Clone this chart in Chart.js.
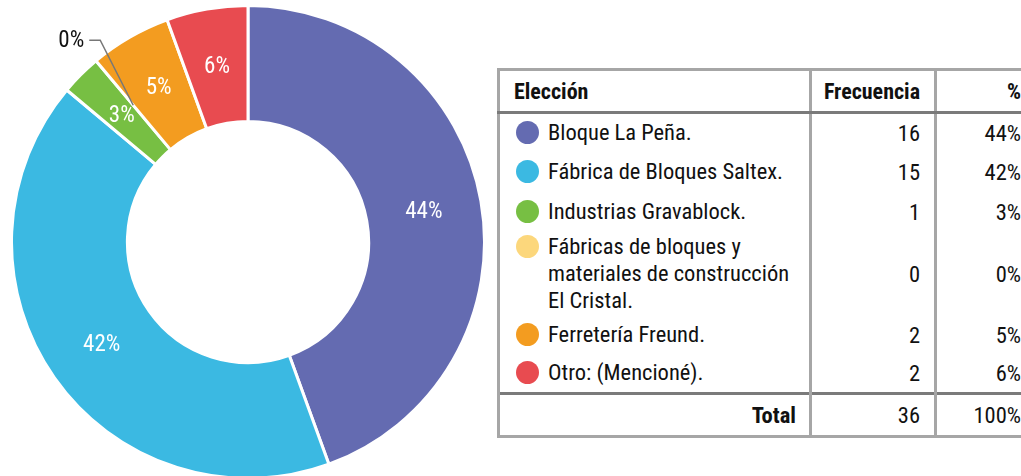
<!DOCTYPE html>
<html lang="es">
<head>
<meta charset="utf-8">
<title>Elección de proveedor</title>
<script src="https://cdn.jsdelivr.net/npm/chart.js@4/dist/chart.umd.min.js"></script>
<style>
  html, body {
    margin: 0;
    padding: 0;
    width: 1021px;
    height: 476px;
    overflow: hidden;
    background: #fff;
    font-family: Roboto, "DejaVu Sans", sans-serif;
    font-stretch: condensed;
    color: #111;
  }
  #chartBox {
    position: absolute;
    left: 10px;
    top: 4px;
    width: 476px;
    height: 476px;
  }
  #tabla {
    position: absolute;
    left: 497px;
    top: 68px;
    border-collapse: collapse;
    table-layout: fixed;
    width: 538px;
    font-size: 22.5px;
  }
  #tabla td, #tabla th {
    padding: 0;
    vertical-align: middle;
  }
  #tabla th {
    font-size: 22px;
    font-weight: bold;
    height: 40px;
    border: 3px solid #a6a6a6;
    border-bottom-color: #7a7a7a;
  }
  #tabla th.nombre { text-align: left; padding-left: 14px; }
  #tabla th.num, #tabla td.num { text-align: right; padding-right: 14px; }
  #tabla td { border-left: 3px solid #a6a6a6; border-right: 3px solid #a6a6a6; }
  #tabla td.nombre { padding-left: 16px; }
  #tabla tr.total td {
    border-top: 3px solid #7a7a7a;
    border-bottom: 3px solid #a6a6a6;
    height: 40px;
  }
  #tabla tr.total td.nombre { text-align: right; font-weight: bold; padding-right: 13px; }
  .item { display: flex; align-items: flex-start; line-height: 27px; white-space: pre-line; }
  .dot {
    flex: none;
    width: 23px;
    height: 23px;
    border-radius: 50%;
    margin-top: 2px;
    margin-right: 9px;
  }
</style>
</head>
<body>
<div id="chartBox"><canvas id="donaChart" width="476" height="476"></canvas></div>
<table id="tabla">
  <colgroup><col style="width:312px"><col style="width:125px"><col style="width:101px"></colgroup>
  <thead>
    <tr><th class="nombre">Elección</th><th class="num">Frecuencia</th><th class="num">%</th></tr>
  </thead>
  <tbody id="tablaBody"></tbody>
</table>
<script>
// Categorías y valores de la encuesta
const categorias = [
  "Bloque La Peña.",
  "Fábrica de Bloques Saltex.",
  "Industrias Gravablock.",
  "Fábricas de bloques y\nmateriales de construcción\nEl Cristal.",
  "Ferretería Freund.",
  "Otro: (Mencioné)."
];
const frecuencias = [16, 15, 1, 0, 2, 2];
const porcentajes = ["44%", "42%", "3%", "0%", "5%", "6%"];
const totalFrecuencia = "36";
const totalPorcentaje = "100%";

const colores = ["#646bb1", "#3bb9e2", "#77bf43", "#fcd77c", "#f39c20", "#e84b50"];
const alturasFila = [39, 40, 40, 84, 38, 40];

const FUENTE = 'Roboto, "DejaVu Sans", sans-serif';

// Etiquetas de porcentaje sobre cada sector
const etiquetasPlugin = {
  id: "etiquetas",
  afterDatasetsDraw(chart) {
    const ctx = chart.ctx;
    const meta = chart.getDatasetMeta(0);
    ctx.save();
    ctx.font = "23px " + FUENTE;
    if ("fontStretch" in ctx) ctx.fontStretch = "condensed";
    ctx.textAlign = "center";
    ctx.textBaseline = "middle";
    meta.data.forEach((arc, i) => {
      const pos = arc.tooltipPosition();
      if (frecuencias[i] > 0) {
        ctx.fillStyle = "#ffffff";
        ctx.fillText(porcentajes[i], pos.x, pos.y + 1);
      } else {
        // sector vacío: etiqueta fuera con línea guía
        const codoX = pos.x - 33;
        const codoY = pos.y - 65;
        ctx.strokeStyle = "#777777";
        ctx.lineWidth = 1.5;
        ctx.beginPath();
        ctx.moveTo(pos.x, pos.y);
        ctx.lineTo(codoX, codoY);
        ctx.lineTo(codoX - 11, codoY);
        ctx.stroke();
        ctx.fillStyle = "#111111";
        ctx.textAlign = "right";
        ctx.fillText(porcentajes[i], codoX - 16, codoY + 1);
        ctx.textAlign = "center";
      }
    });
    ctx.restore();
  }
};

function initChart() {
  const ctx = document.getElementById("donaChart").getContext("2d");
  new Chart(ctx, {
    type: "doughnut",
    data: {
      labels: categorias,
      datasets: [
        {
          data: frecuencias,
          backgroundColor: colores,
          borderColor: "#ffffff",
          borderWidth: 3
        }
      ]
    },
    options: {
      responsive: false,
      animation: false,
      devicePixelRatio: 1,
      cutout: "51%",
      layout: { padding: 0 },
      plugins: {
        legend: { display: false },
        tooltip: { enabled: false }
      }
    },
    plugins: [etiquetasPlugin]
  });
}

function buildTable() {
  const body = document.getElementById("tablaBody");
  categorias.forEach((nombre, i) => {
    const tr = document.createElement("tr");
    tr.style.height = alturasFila[i] + "px";
    tr.innerHTML =
      '<td class="nombre"><div class="item"><span class="dot" style="background:' + colores[i] +
      '"></span><span></span></div></td>' +
      '<td class="num">' + frecuencias[i] + '</td>' +
      '<td class="num">' + porcentajes[i] + '</td>';
    tr.querySelector(".item span:last-child").textContent = nombre;
    body.appendChild(tr);
  });
  const trTotal = document.createElement("tr");
  trTotal.className = "total";
  trTotal.innerHTML =
    '<td class="nombre">Total</td><td class="num">' + totalFrecuencia +
    '</td><td class="num">' + totalPorcentaje + '</td>';
  body.appendChild(trTotal);
}

buildTable();
initChart();
</script>
</body>
</html>
